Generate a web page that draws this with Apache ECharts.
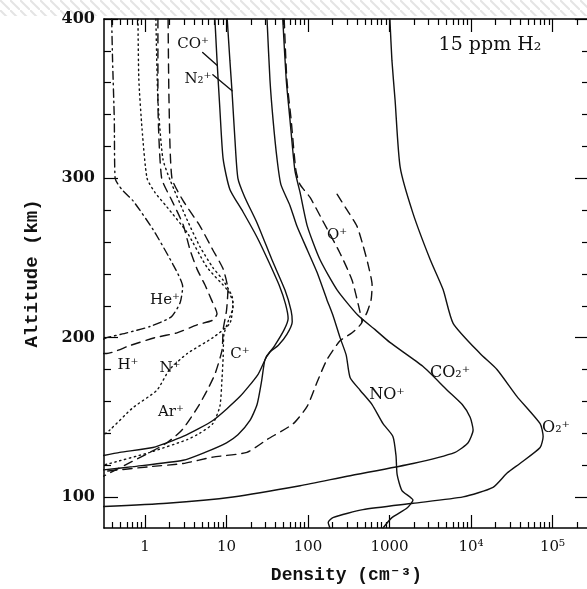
<!DOCTYPE html>
<html>
<head>
<meta charset="utf-8">
<script src="https://cdn.jsdelivr.net/npm/echarts@6/dist/echarts.min.js"></script>
<style>
html, body { margin: 0; background: #fff; }
#chart { width: 587px; height: 589px; }
</style>
</head>
<body>
<div id="chart"></div>
<script>
// ion profiles: [density (cm^-3), altitude (km)]
const hePlus = [[0.39,400],[0.40,374],[0.42,337],[0.43,300],[0.52,293],[0.71,286],[1.25,268],[2.2,246],[2.9,232],[2.7,222],[2.1,213],[1.15,207],[0.6,203],[0.34,200],[0.31,199]]
const nPlus = [[0.82,400],[0.84,362],[0.92,331],[1.06,300],[1.33,291],[1.86,282],[3.28,266],[5.8,244],[10.2,230],[12,222],[11,209],[6.8,200],[3.3,190],[2.0,180],[1.4,167],[0.71,156],[0.37,142],[0.31,139]]
const arPlus = [[1.36,400],[1.44,349],[1.66,312],[2.03,299],[3.28,274],[4.73,257],[6.8,244],[9.1,236],[11.7,226],[12,219],[10.6,211],[9.3,202],[9.1,188],[8.8,174],[8.3,157],[6.8,146],[4.7,140],[3.3,136],[1.15,128],[0.37,121],[0.31,120]]
const hPlus = [[1.44,400],[1.44,349],[1.6,300],[2.14,286],[2.93,271],[3.57,255],[4.35,243],[5.45,233],[6.5,224],[7.65,215],[6.8,211],[4.35,208],[2.47,203],[1.33,200],[0.65,195],[0.34,190],[0.31,190]]
const cPlus = [[1.92,400],[1.97,349],[2.14,300],[2.93,286],[4.73,270],[6.8,255],[9.1,243],[10.4,230],[10,217],[9.1,205],[8.8,192],[7.2,177],[5.8,167],[4.4,156],[2.84,142],[1.86,134],[1.15,128],[0.57,120],[0.31,113]]
const coPlus = [[7.2,400],[7.65,374],[8.3,343],[9.1,312],[11,293],[15.9,279],[23.7,263],[32,249],[45,232],[53,221],[57,212],[51,205],[39,195],[31,188],[24.4,177],[14.6,163],[6.8,148],[2.93,138],[1.25,131],[0.49,128],[0.31,126]]
const n2Plus = [[10.2,400],[11,374],[11.7,354],[12.7,324],[13.8,300],[16.8,288],[23.7,272],[36,249],[52,230],[62,217],[64,210],[55,202],[43,195],[34,191],[29.6,186],[27,173],[23.7,158],[19.4,148],[13.8,139],[10,134],[5.45,128],[2.93,123],[0.71,119],[0.31,117]]
const noPlus = [[31.4,400],[34.1,362],[37.2,337],[41.7,312],[46.5,296],[60,283],[73,270],[98,255],[129,241],[170,224],[202,214],[247,200],[294,189],[328,175],[435,167],[611,158],[832,146],[1100,138],[1200,126],[1240,114],[1420,104],[1940,98],[1640,93],[1070,87],[832,80.5]]
const co2Plus = [[49,400],[54,362],[60,337],[69,305],[80,291],[98,270],[140,249],[227,230],[410,214],[665,205],[1010,197],[2560,182],[5100,167],[7800,158],[9750,150],[10600,142],[9200,134],[6380,128],[1940,121],[302,113],[80,107],[12,100],[1.86,96],[0.31,94]]
const o2Plus = [[1010,400],[1070,374],[1170,349],[1350,307],[1940,278],[3150,249],[4550,230],[6030,209],[12900,190],[20800,180],[36700,163],[70400,146],[76600,138],[70400,131],[39800,121],[27700,115],[18600,106],[7990,100],[1940,96],[472,92],[202,87],[177,84],[186,80.5]]
const oPlus = [[51,400],[55,362],[62,337],[71,305],[80,296],[106,288],[149,274],[247,253],[347,236],[435,216],[460,210],[347,203],[247,198],[170,186],[129,172],[98,157],[66,146],[31.4,136],[17.8,128],[6.8,125],[2.93,121],[1.15,119],[0.31,116]]
const oPlusUpper = [[227,290],[302,280],[398,270],[472,258],[545,246],[611,233],[595,224],[531,216],[460,210]]

// leader lines from the CO+ / N2+ labels
const coLeader = [[5.1,379],[7.65,371]]
const n2Leader = [[6.8,365],[11.7,355]]

// axes
const xRange = [0.314, 2.8e5]
const yRange = [80.5, 400]
const xMajor = [1, 10, 100, 1000, 1e4, 1e5]
const xMajorLabels = ['1', '10', '100', '1000', '10⁴', '10⁵']
const yMajor = [100, 200, 300, 400]
const yMinor = [120, 140, 160, 180, 220, 240, 260, 280, 320, 340, 360, 380]

const lg = v => Math.log10(v)
const xMinor = []
for (let p = -1; p <= 5; p++) {
  for (let k = 2; k <= 9; k++) {
    const v = k * Math.pow(10, p)
    if (v > xRange[0] && v < xRange[1]) xMinor.push(v)
  }
}

const INK = '#111'
const DASH = [9, 6]
const DOT = [1.4, 3.6]
const DASHDOT = [8, 4, 1.5, 4]

function curve(name, pts, type) {
  return {
    name: name,
    type: 'line',
    data: pts.map(p => [lg(p[0]), p[1]]),
    showSymbol: false,
    smooth: 0.2,
    silent: true,
    lineStyle: { color: INK, width: 1.4, type: type, cap: 'round' }
  }
}

function xAx(pos, ticks, len, labels) {
  return {
    type: 'value',
    position: pos,
    min: lg(xRange[0]),
    max: lg(xRange[1]),
    splitLine: { show: false },
    axisLine: { show: len > 8, onZero: false, lineStyle: { color: '#000', width: 1.5 } },
    axisTick: { inside: true, length: len, customValues: ticks.map(lg), lineStyle: { color: '#000', width: 1.2 } },
    axisLabel: labels ? {
      customValues: xMajor.map(lg),
      margin: 12,
      color: INK,
      fontFamily: 'DejaVu Serif',
      fontSize: 15,
      formatter: v => xMajorLabels[xMajor.findIndex(m => Math.abs(lg(m) - v) < 1e-6)] || ''
    } : { show: false }
  }
}

function yAx(pos, ticks, len, labels) {
  return {
    type: 'value',
    position: pos,
    min: yRange[0],
    max: yRange[1],
    splitLine: { show: false },
    axisLine: { show: len > 8, onZero: false, lineStyle: { color: '#000', width: 1.5 } },
    axisTick: { inside: true, length: len, customValues: ticks, lineStyle: { color: '#000', width: 1.2 } },
    axisLabel: labels ? {
      customValues: yMajor,
      margin: 9,
      color: INK,
      fontFamily: 'DejaVu Serif',
      fontWeight: 'bold',
      fontSize: 16
    } : { show: false }
  }
}

// light hatch band along the top of the page
const hatch = document.createElement('canvas')
hatch.width = 10
hatch.height = 10
const hctx = hatch.getContext('2d')
hctx.strokeStyle = '#e4e4e4'
hctx.lineWidth = 2
hctx.beginPath()
hctx.moveTo(0, 0)
hctx.lineTo(10, 10)
hctx.stroke()

function label(text, x, y, size) {
  return {
    type: 'text',
    x: x, y: y,
    style: {
      text: text,
      fill: INK,
      font: (size || 15) + 'px "DejaVu Serif"',
      align: 'center', verticalAlign: 'middle',
      textAlign: 'center', textVerticalAlign: 'middle'
    }
  }
}

let myChart = echarts.init(document.getElementById('chart'), null, { renderer: 'canvas' })

let opt = {
  animation: false,
  backgroundColor: '#fff',
  grid: { left: 104, right: -2, top: 19, bottom: 61, outerBoundsMode: 'none', containLabel: false },
  xAxis: [
    Object.assign(xAx('bottom', xMajor, 13, true), {
      name: 'Density (cm⁻³)',
      nameLocation: 'middle',
      nameGap: 38,
      nameTextStyle: { color: INK, fontFamily: 'Liberation Mono, DejaVu Sans Mono', fontWeight: 'bold', fontSize: 18 }
    }),
    xAx('bottom', xMinor, 6, false),
    xAx('top', xMajor, 13, false),
    xAx('top', xMinor, 6, false)
  ],
  yAxis: [
    Object.assign(yAx('left', yMajor, 14, true), {
      name: 'Altitude (km)',
      nameLocation: 'middle',
      nameGap: 62,
      nameTextStyle: { color: INK, fontFamily: 'Liberation Mono, DejaVu Sans Mono', fontWeight: 'bold', fontSize: 19 }
    }),
    yAx('left', yMinor, 7, false),
    yAx('right', yMajor, 14, false),
    yAx('right', yMinor, 7, false)
  ],
  series: [
    curve('He+', hePlus, DASHDOT),
    curve('N+', nPlus, DOT),
    curve('Ar+', arPlus, DOT),
    curve('H+', hPlus, DASH),
    curve('C+', cPlus, DASH),
    curve('CO+', coPlus, 'solid'),
    curve('N2+', n2Plus, 'solid'),
    curve('NO+', noPlus, 'solid'),
    curve('CO2+', co2Plus, 'solid'),
    curve('O2+', o2Plus, 'solid'),
    curve('O+', oPlus, DASH),
    curve('O+ upper', oPlusUpper, DASH),
    curve('', coLeader, 'solid'),
    curve('', n2Leader, 'solid')
  ],
  graphic: [
    { type: 'rect', shape: { x: 0, y: 0, width: 587, height: 16 }, style: { fill: { image: hatch, repeat: 'repeat' } }, silent: true },
    label('CO⁺', 193, 44),
    label('N₂⁺', 198, 79),
    label('15 ppm H₂', 490, 45, 19),
    label('O⁺', 337, 235),
    label('He⁺', 165, 300),
    label('H⁺', 128, 365),
    label('N⁺', 170, 368),
    label('C⁺', 240, 354),
    label('Ar⁺', 171, 412),
    label('NO⁺', 387, 395, 16),
    label('CO₂⁺', 450, 373, 16),
    label('O₂⁺', 556, 428, 16)
  ]
}

myChart.setOption(opt)
</script>
</body>
</html>
